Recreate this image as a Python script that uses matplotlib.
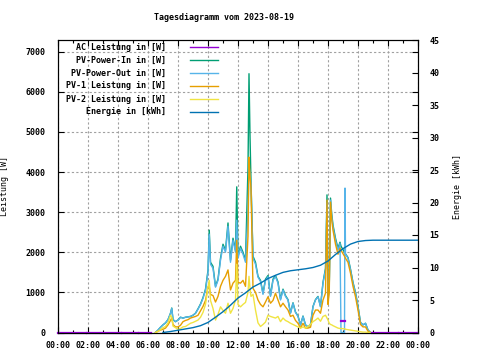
import matplotlib
matplotlib.use("Agg")
import matplotlib.pyplot as plt
import numpy as np
from matplotlib.lines import Line2D
from matplotlib.ticker import MultipleLocator

title = "Tagesdiagramm vom 2023-08-19"
x_tick_labels = ["00:00", "02:00", "04:00", "06:00", "08:00", "10:00", "12:00",
                 "14:00", "16:00", "18:00", "20:00", "22:00", "00:00"]
y_left_ticks = [0, 1000, 2000, 3000, 4000, 5000, 6000, 7000]
y_right_ticks = [0, 5, 10, 15, 20, 25, 30, 35, 40, 45]
legend_labels = ["AC Leistung in [W]", "PV-Power-In in [W]", "PV-Power-Out in [W]",
                 "PV-1 Leistung in [W]", "PV-2 Leistung in [W]", "Energie in [kWh]"]

power_times = ["06:30", "06:40", "06:50", "07:00", "07:10", "07:20", "07:30", "07:35", "07:40", "07:50",
               "08:00", "08:10", "08:20", "08:30", "08:40", "08:50", "09:00", "09:10", "09:20", "09:30",
               "09:40", "09:50", "10:00", "10:05", "10:10", "10:20", "10:30", "10:40", "10:50", "11:00",
               "11:10", "11:20", "11:30", "11:40", "11:50", "11:55", "12:00", "12:10", "12:20", "12:30",
               "12:40", "12:44", "12:48", "12:52", "13:00", "13:10", "13:20", "13:30", "13:40", "13:50",
               "14:00", "14:10", "14:20", "14:30", "14:40", "14:50", "15:00", "15:10", "15:20", "15:30",
               "15:40", "15:50", "16:00", "16:10", "16:20", "16:30", "16:40", "16:50", "17:00", "17:10",
               "17:20", "17:30", "17:40", "17:50", "17:56", "18:00", "18:05", "18:10", "18:15", "18:20",
               "18:30", "18:40", "18:48", "18:52", "19:06", "19:08", "19:10", "19:20", "19:30", "19:40",
               "19:50", "20:00", "20:10", "20:20", "20:30", "20:40", "20:50"]
pv_power_out = [0, 60, 130, 190, 240, 320, 480, 600, 320, 270,
                310, 380, 360, 380, 390, 400, 430, 480, 580, 700,
                850, 1050, 1500, 2450, 1700, 1600, 1130, 1300, 1800, 2150,
                2000, 2650, 1750, 2300, 2000, 2800, 1850, 2100, 1950, 1750,
                3000, 4200, 3900, 3700, 1850, 1700, 1380, 1270, 950, 1300,
                1390, 900, 1300, 1390, 1230, 810, 1060, 900, 810, 480,
                730, 500, 400, 190, 400, 190, 140, 200, 640, 810,
                890, 640, 1230, 1560, 3230, 810, 1130, 3300, 2880, 2630,
                2300, 2050, 2220, 0, 0, 3600, 1950, 1850, 1560, 1230,
                980, 640, 250, 190, 230, 60, 0]
pv_power_in = [0, 60, 130, 190, 240, 320, 480, 610, 320, 270,
               310, 380, 360, 380, 390, 400, 430, 480, 590, 710,
               870, 1080, 1550, 2550, 1750, 1650, 1150, 1330, 1850, 2200,
               2050, 2730, 1800, 2350, 2050, 3630, 1900, 2150, 2000, 1800,
               4100, 6450, 4900, 3750, 1900, 1750, 1400, 1300, 980, 1330,
               1420, 920, 1330, 1420, 1260, 830, 1080, 920, 820, 490,
               740, 510, 410, 190, 410, 190, 140, 200, 650, 820,
               900, 650, 1250, 1600, 3430, 820, 1150, 3350, 2950, 2680,
               2350, 2100, 2250, 2150, 2000, 1980, 1960, 1870, 1580, 1250,
               1000, 650, 250, 190, 230, 60, 0]
pv1_power = [0, 30, 60, 80, 110, 190, 300, 360, 200, 140,
             140, 180, 270, 300, 320, 360, 380, 400, 430, 540,
             650, 800, 1140, 1150, 950, 920, 760, 900, 1150, 1300,
             1400, 1560, 1060, 1230, 1300, 2300, 1250, 1230, 1300, 1150,
             2400, 4370, 3900, 3600, 1100, 1000, 810, 700, 640, 760,
             890, 730, 800, 980, 810, 640, 730, 640, 560, 400,
             430, 300, 230, 110, 230, 110, 110, 130, 430, 560,
             560, 480, 810, 980, 3300, 700, 1000, 3250, 2800, 2550,
             2200, 1950, 2100, 2050, 1900, 1880, 1850, 1750, 1480, 1150,
             890, 560, 200, 140, 140, 30, 0]
pv2_power = [0, 30, 70, 120, 150, 240, 430, 380, 160, 120,
             80, 100, 140, 150, 190, 230, 250, 280, 310, 380,
             500, 700, 1130, 1300, 800, 600, 310, 450, 640, 550,
             480, 730, 480, 600, 810, 1700, 700, 640, 700, 750,
             1000, 1400, 1100, 900, 950, 560, 240, 150, 200, 260,
             430, 400, 380, 360, 400, 270, 360, 300, 270, 230,
             200, 170, 140, 110, 140, 110, 150, 200, 270, 310,
             360, 280, 400, 430, 360, 310, 230, 200, 190, 170,
             140, 110, 100, 100, 90, 90, 80, 70, 60, 50,
             40, 30, 20, 10, 10, 0, 0]

energy_times = ["07:00", "07:30", "08:00", "08:30", "09:00", "09:30", "10:00", "10:30", "11:00",
                "11:30", "12:00", "12:30", "13:00", "13:30", "14:00", "14:30", "15:00", "15:30",
                "16:00", "16:30", "17:00", "17:30", "18:00", "18:30", "19:00", "19:30", "20:00",
                "20:30", "21:00", "24:00"]
energy_kwh = [0.0, 0.15, 0.35, 0.55, 0.75, 1.05, 1.55, 2.35, 3.2,
              4.2, 5.3, 6.1, 7.0, 7.6, 8.3, 8.8, 9.25, 9.5,
              9.65, 9.8, 10.0, 10.35, 11.0, 12.0, 12.9, 13.6, 14.0,
              14.15, 14.2, 14.2]

ac_times = ["00:00", "01:50", "01:52", "01:56", "02:45", "02:47", "02:50", "04:10", "04:12", "04:15",
            "05:20", "05:22", "05:25", "06:10", "06:12", "18:52", "19:06", "19:07", "20:56", "22:40",
            "22:42", "22:45", "24:00"]
ac_power = [0, 0, None, 0, 0, None, 0, 0, None, 0,
            0, None, 0, 0, None, 290, 290, None, 0, 0,
            None, 0, 0]


def to_hours(t):
    h, m = t.split(":")
    return int(h) + int(m) / 60.0


colors = ["#9400d3", "#009e73", "#56b4e9", "#e69f00", "#f0e442", "#0072b2"]

plt.rcParams["font.family"] = ["DejaVu Sans Mono"]
plt.rcParams["font.size"] = 6
plt.rcParams["font.weight"] = "bold"

fig = plt.figure(figsize=(4.8, 3.6), dpi=100)
ax = fig.add_axes([58 / 480, 1 - 332.5 / 360, 360 / 480, 292.5 / 360])
ax2 = ax.twinx()

pt = np.array([to_hours(t) for t in power_times])
at = np.array([to_hours(t) for t in ac_times])
ac = np.array([np.nan if v is None else v for v in ac_power], dtype=float)

lw = 1.0
ax.plot(at, ac, color=colors[0], lw=1.6, clip_on=False, zorder=5)
ax.plot(pt, pv_power_in, color=colors[1], lw=lw, zorder=2)
ax.plot(pt, pv_power_out, color=colors[2], lw=lw, zorder=3)
ax.plot(pt, pv1_power, color=colors[3], lw=lw, zorder=3.5)
ax.plot(pt, pv2_power, color=colors[4], lw=lw, zorder=4)

et = np.array([to_hours(t) for t in energy_times])
ax2.plot(et, energy_kwh, color=colors[5], lw=lw)

ax.set_xlim(0, 24)
ax.set_ylim(0, 7290)
ax2.set_ylim(0, 45)
ax.set_xticks(np.arange(0, 25, 2))
ax.set_xticklabels(x_tick_labels)
ax.xaxis.set_minor_locator(MultipleLocator(1))
ax.set_yticks(y_left_ticks)
ax.set_yticklabels([str(v) for v in y_left_ticks])
ax2.set_yticks(y_right_ticks)
ax2.set_yticklabels([str(v) for v in y_right_ticks])

ax.grid(True, which="major", color="#a0a0a0", linestyle=(0, (2, 2)), linewidth=0.8)
ax.set_axisbelow(True)
ax.tick_params(axis="x", which="major", direction="in", length=4, top=True, pad=6, width=0.8)
ax.tick_params(axis="x", which="minor", direction="in", length=2, top=True, width=0.8)
ax.tick_params(axis="y", direction="in", length=4, right=True, pad=9, width=0.8)
ax2.tick_params(axis="y", direction="in", length=4, pad=8, width=0.8)
for a in (ax, ax2):
    for s in a.spines.values():
        s.set_linewidth(0.8)
        s.set_color("black")

ax.set_ylabel("Leistung [W]", labelpad=12)
ax2.set_ylabel("Energie [kWh]", labelpad=10)
fig.text(224 / 480, 1 - 18 / 360, title, ha="center", va="center")

for i, (lab, c) in enumerate(zip(legend_labels, colors)):
    ypx = 47 + 13 * i
    yf = 1 - ypx / 360
    fig.text(166 / 480, yf, lab, ha="right", va="center")
    fig.add_artist(Line2D([190 / 480, 218 / 480], [yf, yf], color=c, lw=1.0,
                          transform=fig.transFigure))

fig.savefig("out.png", dpi=100)
